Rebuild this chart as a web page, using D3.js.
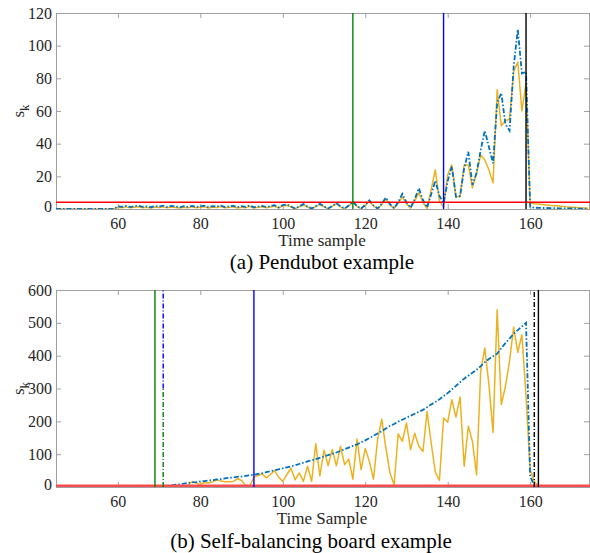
<!DOCTYPE html>
<html>
<head>
<meta charset="utf-8">
<script src="https://cdn.jsdelivr.net/npm/d3@7/dist/d3.min.js"></script>
<style>
  body { margin: 0; background: #fff; }
  text { font-family: 'Liberation Serif', 'DejaVu Serif', serif; }
</style>
</head>
<body>
<div id="chart"></div>
<script>
'use strict';

var FONT = "'Liberation Serif', 'DejaVu Serif', serif";

// sample index shared by both panels (45 .. 174)
var samples = d3.range(45, 175);

// (a) Pendubot
var pendBlue = [
  0, 0, 0, 0, 0, 0, 0, 0, 0, 0,
  0, 0, 0, 0, 0, 1.6, 1.3, 1.9, 1.2, 1.7,
  2.0, 1.3, 1.6, 1.1, 1.8, 1.4, 2.0, 1.2, 1.9, 1.5,
  1.0, 1.7, 1.3, 1.9, 1.3, 1.6, 2.0, 1.1, 1.8, 1.5,
  2.1, 1.2, 1.6, 1.9, 1.1, 1.7, 1.3, 2.1, 1.0, 1.5,
  1.9, 1.2, 1.7, 2.3, 1.0, 2.4, 2.8, 1.5, 0.3, 1.6,
  3.0, 1.5, 0.3, 1.7, 3.2, 1.6, 0.3, 1.9, 3.6, 1.6,
  0.3, 2.1, 4.5, 1.8, 0.2, 2.6, 5.3, 2.2, 0.3, 3.2,
  7.0, 3.0, 0.5, 4.2, 9.3, 4.0, 0.8, 6.0, 12.7, 5.5,
  1.0, 9.0, 17.3, 8.0, 3.6, 17.0, 26, 7.5, 8.0, 25,
  35, 14.7, 22, 36, 48, 38, 28, 65, 71, 52,
  48, 87, 110, 83, 84, 1.4, 0.8, 0.7, 0.6, 0.6,
  0.5, 0.5, 0.4, 0.4, 0.3, 0.3, 0.3, 0.2, 0.2, 0.2
];
var pendOrange = [
  0, 0, 0, 0, 0, 0, 0, 0, 0, 0,
  0, 0, 0, 0, 0, 1.0, 0.8, 1.3, 0.7, 1.1,
  1.4, 0.8, 1.0, 0.6, 1.2, 0.9, 1.3, 0.7, 1.2, 0.9,
  0.6, 1.1, 0.8, 1.3, 0.8, 1.0, 1.4, 0.6, 1.2, 0.9,
  1.5, 0.7, 1.0, 1.3, 0.6, 1.1, 0.8, 1.6, 0.6, 1.0,
  1.4, 0.7, 1.2, 1.8, 0.6, 1.9, 2.3, 1.2, 0.2, 1.3,
  2.6, 1.2, 0.2, 1.4, 2.8, 1.3, 0.2, 1.6, 3.2, 1.3,
  0.2, 1.8, 4.2, 1.5, 0.1, 2.2, 4.6, 1.8, 0.2, 2.8,
  6.2, 2.5, 0.3, 3.5, 7.4, 3.2, 0.5, 5.0, 10.0, 4.0,
  0.3, 12, 24, 5, 1.0, 21, 27, 7.5, 7.5, 27,
  27, 13, 22, 33, 30, 24, 16, 73, 51, 54,
  55, 84, 90, 60, 77, 3.6, 3.2, 3.0, 2.7, 2.5,
  2.2, 2.0, 1.8, 1.5, 1.3, 1.1, 0.9, 0.7, 0.6, 0.5
];
var pendThreshold = 4.2;
var pendYTicks = [0, 20, 40, 60, 80, 100, 120];
var pendMarkers = [
  {x: 117, color: '#008000', dash: null, from: 0, to: 120},
  {x: 139, color: '#0000ff', dash: null, from: 0, to: 120},
  {x: 159, color: '#000000', dash: null, from: 0, to: 120}
];

// (b) Self-balancing board
var boardBlue = [
  0, 0, 0, 0, 0, 0, 0, 0, 0, 0,
  0, 0, 0, 0, 0, 0, 0, 0, 0, 0,
  0, 0, 0, 0, 0, 0, 3, 4, 5, 7,
  8, 10, 12, 14, 15, 17, 18, 20, 21, 23,
  24, 26, 28, 29, 31, 32, 34, 36, 37, 40,
  42, 45, 48, 51, 54, 57, 60, 63, 66, 70,
  74, 78, 81, 85, 89, 93, 97, 101, 105, 110,
  115, 120, 125, 130, 136, 142, 149, 156, 163, 170,
  178, 186, 192, 199, 205, 211, 217, 223, 229, 235,
  243, 251, 259, 267, 277, 286, 297, 308, 319, 330,
  339, 348, 357, 368, 380, 390, 398, 406, 423, 438,
  452, 467, 478, 489, 500, 32, 5, 1, 0, 0,
  0, 0, 0, 0, 0, 0, 0, 0, 0, 0
];
var boardOrange = [
  0, 0, 0, 0, 0, 0, 0, 0, 0, 0,
  0, 0, 0, 0, 0, 0, 0, 0, 0, 0,
  0, 0, 0, 0, 0, 0, 0, 0, 0, 0,
  0, 2, 5, 17, 12, 7, 14, 12, 16, 22,
  18, 16, 16, 17, 25, 20, 5, 3, 30, 35,
  40, 28, 38, 50, 30, 17, 38, 57, 22, 43,
  17, 63, 17, 132, 34, 112, 65, 114, 65, 124,
  68, 85, 24, 146, 53, 117, 78, 24, 144, 207,
  119, 43, 7, 162, 139, 195, 114, 164, 124, 108,
  230, 134, 45, 20, 210, 197, 266, 213, 274, 63,
  185, 139, 37, 352, 423, 312, 166, 540, 251, 306,
  383, 487, 410, 464, 276, 53, 17, 3, 0, 0,
  0, 0, 0, 0, 0, 0, 0, 0, 0, 0
];
var boardThreshold = 3;
var boardYTicks = [0, 100, 200, 300, 400, 500, 600];
var boardMarkers = [
  {x: 69, color: '#008000', dash: null, from: 0, to: 600},
  {x: 71, color: '#008000', dash: '5,2,1,2', from: 0, to: 300},
  {x: 71, color: '#0000ff', dash: '5,2,1,2', from: 300, to: 600},
  {x: 93, color: '#0000ff', dash: null, from: 0, to: 600},
  {x: 161, color: '#000000', dash: '5,2,1,2', from: 0, to: 600},
  {x: 162, color: '#000000', dash: null, from: 0, to: 600}
];

var xTicks = [60, 80, 100, 120, 140, 160];

var width = 590, height = 553;
var svg = d3.select('#chart').append('svg')
  .attr('width', width)
  .attr('height', height);

function drawPanel(cfg) {
  var x = d3.scaleLinear().domain([45, 175]).range([56, 592]);
  var y = d3.scaleLinear().domain([0, cfg.yMax]).range([cfg.bottom, cfg.top]);
  var g = svg.append('g');
  var clipId = 'clip-' + cfg.id;

  g.append('clipPath').attr('id', clipId)
    .append('rect')
    .attr('x', x.range()[0]).attr('y', cfg.top - 2)
    .attr('width', x.range()[1] - x.range()[0])
    .attr('height', cfg.bottom - cfg.top + 2);

  // axes, matlab style box with inward ticks
  var xAxis = g.append('g')
    .attr('transform', 'translate(0,' + cfg.bottom + ')')
    .call(d3.axisBottom(x).tickValues(xTicks).tickSize(-5).tickPadding(9).tickFormat(d3.format('d')));
  var xTop = g.append('g')
    .attr('transform', 'translate(0,' + cfg.top + ')')
    .call(d3.axisTop(x).tickValues(xTicks).tickSize(-5).tickFormat(''));
  var yAxis = g.append('g')
    .attr('transform', 'translate(' + x.range()[0] + ',0)')
    .call(d3.axisLeft(y).tickValues(cfg.yTicks).tickSize(-5).tickPadding(4));
  var yRight = g.append('g')
    .attr('transform', 'translate(' + (x.range()[1] - 3) + ',0)')
    .call(d3.axisRight(y).tickValues(cfg.yTicks).tickSize(-5).tickFormat(''));

  [xAxis, xTop, yAxis, yRight].forEach(function(a) {
    a.attr('font-family', null);
    a.select('.domain').attr('stroke', '#a0a0a0');
    a.selectAll('.tick line').attr('stroke', '#a0a0a0');
    a.selectAll('.tick text')
      .attr('fill', '#262626')
      .style('font-size', '16px');
  });
  yAxis.selectAll('.tick').filter(function(d) { return d === 0; })
    .select('text').attr('dy', '0.15em');

  var line = function(vals) {
    return d3.line()
      .x(function(d, i) { return x(samples[i]); })
      .y(function(d) { return y(d); })(vals);
  };

  var plot = g.append('g').attr('clip-path', 'url(#' + clipId + ')');

  plot.append('path')
    .attr('d', line(cfg.orange))
    .attr('fill', 'none')
    .attr('stroke', '#EDB120')
    .attr('stroke-width', 1.5)
    .attr('stroke-linejoin', 'round');

  plot.append('path')
    .attr('d', line(cfg.blue))
    .attr('fill', 'none')
    .attr('stroke', '#0072BD')
    .attr('stroke-width', 1.8)
    .attr('stroke-dasharray', '5,2,1.5,2');

  plot.append('line')
    .attr('x1', x.range()[0]).attr('x2', x.range()[1])
    .attr('y1', y(cfg.threshold)).attr('y2', y(cfg.threshold))
    .attr('stroke', cfg.thresholdColor)
    .attr('stroke-width', cfg.thresholdWidth);

  plot.selectAll('.marker')
    .data(cfg.markers)
    .enter()
    .append('line')
    .attr('class', 'marker')
    .attr('x1', function(d) { return x(d.x); })
    .attr('x2', function(d) { return x(d.x); })
    .attr('y1', function(d) { return y(d.from); })
    .attr('y2', function(d) { return y(d.to); })
    .attr('stroke', function(d) { return d.color; })
    .attr('stroke-width', 1.4)
    .attr('stroke-dasharray', function(d) { return d.dash; });

  // labels
  g.append('text')
    .attr('x', 322).attr('y', cfg.bottom + 37)
    .attr('text-anchor', 'middle')
    .attr('fill', '#262626')
    .style('font-size', '17px')
    .text(cfg.xLabel);

  g.append('text')
    .attr('x', cfg.captionX).attr('y', cfg.captionY)
    .attr('text-anchor', 'middle')
    .attr('fill', '#000')
    .style('font-size', '21px')
    .text(cfg.caption);

  var yl = g.append('text')
    .attr('transform', 'translate(24,' + ((cfg.top + cfg.bottom) / 2) + ') rotate(-90)')
    .attr('text-anchor', 'middle')
    .attr('fill', '#262626')
    .style('font-size', '17px');
  yl.append('tspan').text('s');
  yl.append('tspan').attr('dy', 5).style('font-size', '13px').text('k');
}

drawPanel({
  id: 'a', top: 13, bottom: 209, yMax: 120, yTicks: pendYTicks,
  blue: pendBlue, orange: pendOrange,
  threshold: pendThreshold, thresholdColor: '#ff0000', thresholdWidth: 1.5,
  markers: pendMarkers,
  xLabel: 'Time sample', caption: '(a) Pendubot example', captionX: 322, captionY: 269
});

drawPanel({
  id: 'b', top: 290, bottom: 487, yMax: 600, yTicks: boardYTicks,
  blue: boardBlue, orange: boardOrange,
  threshold: boardThreshold, thresholdColor: '#ff4d4d', thresholdWidth: 3,
  markers: boardMarkers,
  xLabel: 'Time Sample', caption: '(b) Self-balancing board example', captionX: 311, captionY: 548
});
</script>
</body>
</html>
